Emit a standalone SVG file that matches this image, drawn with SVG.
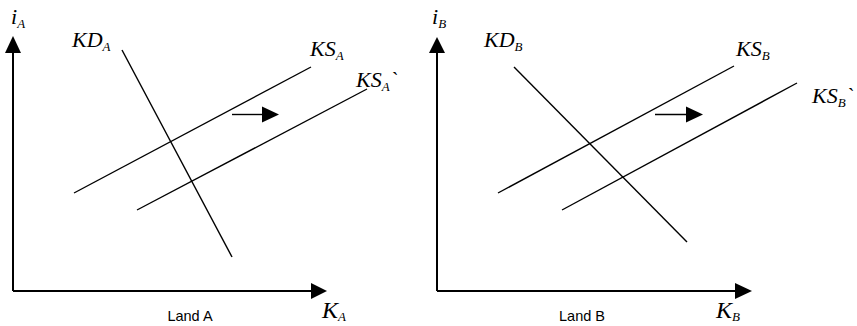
<svg xmlns="http://www.w3.org/2000/svg" width="857" height="326" viewBox="0 0 857 326">
<style>
.ax{stroke:#000;stroke-width:2;fill:none}
.ln{stroke:#000;stroke-width:1.4;fill:none}
.hd{fill:#000}
.lb{font-family:"Liberation Serif",serif;font-style:italic;font-size:22px;fill:#000}
.big{font-size:24px}
.sb{font-size:13px}
.cap{font-family:"Liberation Sans",Arial,sans-serif;font-size:14.5px;fill:#000}
</style>
<rect width="857" height="326" fill="#fff"/>
<g id="panelA">
  <g id="axesA">
    <line class="ax" x1="13" y1="291" x2="13" y2="50"/>
    <polygon class="hd" points="13,36 5,53 21,53"/>
    <line class="ax" x1="13" y1="291" x2="313" y2="291"/>
    <polygon class="hd" points="327,291 311,283 311,299"/>
  </g>
  <g id="connectorsA">
    <line class="ln" x1="122" y1="50" x2="232" y2="257"/>
    <line class="ln" x1="74" y1="193" x2="311" y2="67"/>
    <line class="ln" x1="137" y1="210" x2="367" y2="89"/>
    <line class="ln" x1="232" y1="114.5" x2="264" y2="114.5"/>
    <polygon class="hd" points="279,114.5 262,106.5 262,122.5"/>
  </g>
  <g id="labelsA">
    <text class="lb" x="11" y="24">i<tspan class="sb" dy="4">A</tspan></text>
    <text class="lb" x="72" y="47">KD<tspan class="sb" dy="4">A</tspan></text>
    <text class="lb" x="310" y="56">KS<tspan class="sb" dy="4">A</tspan></text>
    <text class="lb" x="356" y="87">KS<tspan class="sb" dy="4">A</tspan><tspan dy="-4">`</tspan></text>
    <text class="lb big" x="322" y="318">K<tspan class="sb" dy="3">A</tspan></text>
    <text class="cap" x="190" y="321" text-anchor="middle">Land A</text>
  </g>
</g>
<g id="panelB">
  <g id="axesB">
    <line class="ax" x1="437" y1="291" x2="437" y2="50"/>
    <polygon class="hd" points="437,37 429,53 445,53"/>
    <line class="ax" x1="437" y1="291" x2="738" y2="291"/>
    <polygon class="hd" points="752,291 735,283 735,299"/>
  </g>
  <g id="connectorsB">
    <line class="ln" x1="514" y1="67" x2="687" y2="242"/>
    <line class="ln" x1="498" y1="193" x2="734" y2="66"/>
    <line class="ln" x1="562" y1="210" x2="797" y2="83"/>
    <line class="ln" x1="655" y1="114.5" x2="688" y2="114.5"/>
    <polygon class="hd" points="703,114.5 686,106.5 686,122.5"/>
  </g>
  <g id="labelsB">
    <text class="lb" x="432" y="24">i<tspan class="sb" dy="4">B</tspan></text>
    <text class="lb" x="484" y="47">KD<tspan class="sb" dy="4">B</tspan></text>
    <text class="lb" x="736" y="56">KS<tspan class="sb" dy="4">B</tspan></text>
    <text class="lb" x="812" y="103">KS<tspan class="sb" dy="4">B</tspan><tspan dy="-4">`</tspan></text>
    <text class="lb big" x="716" y="318">K<tspan class="sb" dy="3">B</tspan></text>
    <text class="cap" x="582" y="321" text-anchor="middle">Land B</text>
  </g>
</g>
</svg>
